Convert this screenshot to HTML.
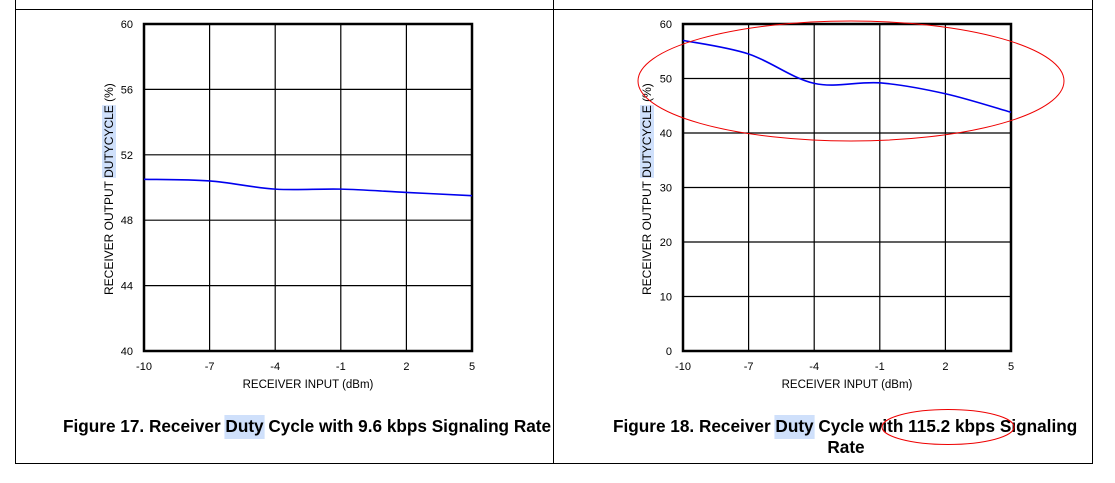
<!DOCTYPE html>
<html><head><meta charset="utf-8"><style>
html,body{margin:0;padding:0;background:#fff;}
svg{display:block;font-family:"Liberation Sans",Arial,sans-serif;}
</style></head><body>
<svg id="root" width="1115" height="483" viewBox="0 0 1115 483">
  <g>
    <line x1="15" y1="9.5" x2="1093" y2="9.5" stroke="#000" stroke-width="1"/>
    <line x1="15" y1="463.5" x2="1093" y2="463.5" stroke="#000" stroke-width="1"/>
    <line x1="15.5" y1="0" x2="15.5" y2="464" stroke="#000" stroke-width="1"/>
    <line x1="553.5" y1="0" x2="553.5" y2="464" stroke="#000" stroke-width="1"/>
    <line x1="1092.5" y1="0" x2="1092.5" y2="464" stroke="#000" stroke-width="1"/>
  </g>
  <g id="hl"></g>
  <g id="c1"></g>
  <g id="c2"></g>
  <text id="cap17" x="63" y="432" font-size="17.2" font-weight="bold">Figure 17. Receiver Duty Cycle with 9.6 kbps Signaling Rate</text>
  <text id="cap18" x="613" y="432" font-size="17.2" font-weight="bold">Figure 18. Receiver Duty Cycle with 115.2 kbps Signaling</text>
  <text x="846" y="453" font-size="17.2" font-weight="bold" text-anchor="middle">Rate</text>
  <ellipse cx="851" cy="81" rx="213" ry="60" fill="none" stroke="#e00" stroke-width="1"/>
  <ellipse cx="948" cy="427" rx="66" ry="17.5" fill="none" stroke="#e00" stroke-width="1"/>
</svg>
<script>
const xTicks = [-10, -7, -4, -1, 2, 5];
const yTicks1 = [40, 44, 48, 52, 56, 60];
const yTicks2 = [0, 10, 20, 30, 40, 50, 60];
const xVals1 = [-10, -7, -4, -1, 2, 5];
const yVals1 = [50.5, 50.4, 49.9, 49.9, 49.7, 49.5];
const xVals2 = [-10, -7, -4, -1, 2, 5];
const yVals2 = [57, 54.5, 49.1, 49.2, 47.2, 43.8];
const NS = "http://www.w3.org/2000/svg";
const hlG = document.getElementById("hl");
function mk(parent, tag, attrs) {
  const e = document.createElementNS(NS, tag);
  for (const k in attrs) e.setAttribute(k, attrs[k]);
  parent.appendChild(e);
  return e;
}
function drawChart(gid, left, right, top, bottom, yTicks, xs, ys, labelX) {
  const g = document.getElementById(gid);
  const ymin = yTicks[0], ymax = yTicks[yTicks.length - 1];
  const sx = v => left + (v - xTicks[0]) / (xTicks[xTicks.length - 1] - xTicks[0]) * (right - left);
  const sy = v => bottom - (v - ymin) / (ymax - ymin) * (bottom - top);
  xTicks.forEach(t => {
    const x = sx(t);
    const l = mk(g, "line", {x1: x, x2: x, y1: top, y2: bottom, stroke: "#000", "stroke-width": 1.2});
    
    
    const tx = mk(g, "text", {x: x, y: bottom + 19, "font-size": 11, "text-anchor": "middle"});
    tx.textContent = t;
    
    
  });
  yTicks.forEach(t => {
    const y = sy(t);
    const l = mk(g, "line", {x1: left, x2: right, y1: y, y2: y, stroke: "#000", "stroke-width": 1.2});
    
    
    const tx = mk(g, "text", {x: left - 11, y: y + 4, "font-size": 11, "text-anchor": "end"});
    tx.textContent = t;
    
    
  });
  const r = mk(g, "rect", {x: left, y: top, width: right - left, height: bottom - top, fill: "none", stroke: "#000", "stroke-width": 2.5});
  
  
  const pts = xs.map((v, i) => [sx(v), sy(ys[i])]);
  let d = "M" + pts[0][0] + "," + pts[0][1];
  for (let i = 0; i < pts.length - 1; i++) {
    const p0 = pts[Math.max(0, i - 1)], p1 = pts[i], p2 = pts[i + 1], p3 = pts[Math.min(pts.length - 1, i + 2)];
    const c1x = p1[0] + (p2[0] - p0[0]) / 6, c1y = p1[1] + (p2[1] - p0[1]) / 6;
    const c2x = p2[0] - (p3[0] - p1[0]) / 6, c2y = p2[1] - (p3[1] - p1[1]) / 6;
    d += " C" + c1x + "," + c1y + " " + c2x + "," + c2y + " " + p2[0] + "," + p2[1];
  }
  const p = mk(g, "path", {d: d, fill: "none", stroke: "#0000ee", "stroke-width": 1.6});
  
  
  const xt = mk(g, "text", {x: (left + right) / 2, y: bottom + 37, "font-size": 11.5, "text-anchor": "middle"});
  xt.textContent = "RECEIVER INPUT (dBm)";
  
  
  const bottomY = 295;
  const yt = mk(g, "text", {x: labelX, y: bottomY, "font-size": 12, "text-anchor": "start", transform: "rotate(-90 " + labelX + " " + bottomY + ")"});
  yt.textContent = "RECEIVER OUTPUT DUTYCYCLE (%)";
  
  
  const s = yt.getSubStringLength(0, 16), w = yt.getSubStringLength(16, 9);
  const hr = mk(hlG, "rect", {x: labelX - 11, y: bottomY - s - w, width: 14, height: w, fill: "#cfe0fb"});
  
  
}
function capHL(id) {
  const t = document.getElementById(id);
  const x0 = parseFloat(t.getAttribute("x"));
  const s = t.getSubStringLength(0, 20), w = t.getSubStringLength(20, 4);
  const r = mk(hlG, "rect", {x: x0 + s - 1, y: 415, width: w + 2, height: 24, fill: "#cfe0fb"});
  
  
}
drawChart("c1", 144, 472, 24, 351, yTicks1, xVals1, yVals1, 113);
drawChart("c2", 683, 1011, 24, 351, yTicks2, xVals2, yVals2, 651);
capHL("cap17");
capHL("cap18");
</script>
</body></html>
